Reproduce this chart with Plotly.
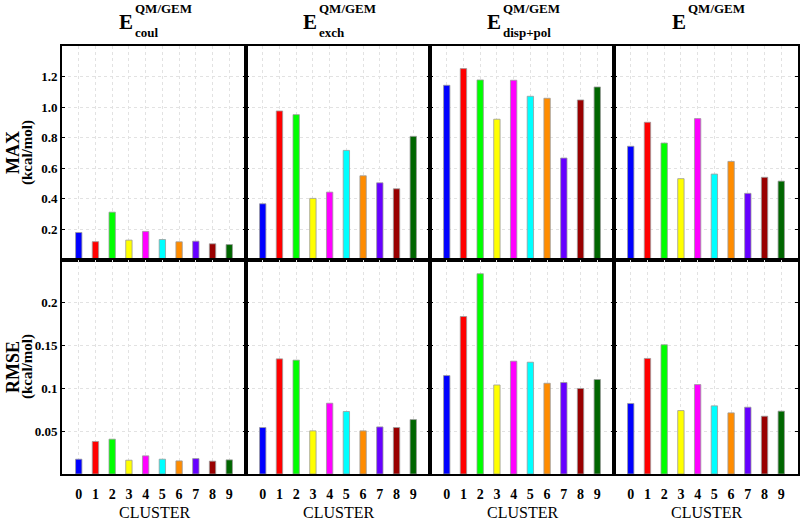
import plotly.graph_objects as go
from plotly.subplots import make_subplots

clusters = ["0", "1", "2", "3", "4", "5", "6", "7", "8", "9"]
colors = ["#0000ff", "#ff0000", "#00ff00", "#ffff00", "#ff00ff",
          "#00ffff", "#ff8c00", "#6600ff", "#990000", "#006600"]

panel_subs = ["coul", "exch", "disp+pol", ""]

max_coul = [0.180, 0.120, 0.313, 0.130, 0.187, 0.134, 0.119, 0.123, 0.106, 0.101]
max_exch = [0.368, 0.975, 0.951, 0.403, 0.444, 0.717, 0.551, 0.505, 0.466, 0.809]
max_disp = [1.143, 1.252, 1.178, 0.921, 1.176, 1.071, 1.058, 0.667, 1.047, 1.132]
max_tot = [0.744, 0.901, 0.765, 0.532, 0.925, 0.562, 0.645, 0.436, 0.541, 0.516]

rmse_coul = [0.0173, 0.0380, 0.0407, 0.0161, 0.0212, 0.0173, 0.0153, 0.0180, 0.0150, 0.0165]
rmse_exch = [0.0543, 0.1345, 0.1330, 0.0504, 0.0827, 0.0730, 0.0504, 0.0550, 0.0543, 0.0636]
rmse_disp = [0.1150, 0.1840, 0.2340, 0.1040, 0.1318, 0.1306, 0.1060, 0.1069, 0.0999, 0.1104]
rmse_tot = [0.0824, 0.1350, 0.1510, 0.0741, 0.1045, 0.0796, 0.0714, 0.0780, 0.0675, 0.0734]

max_ticks = [0.2, 0.4, 0.6, 0.8, 1.0, 1.2]
max_ticklabels = ["0.2", "0.4", "0.6", "0.8", "1.0", "1.2"]
rmse_ticks = [0.05, 0.1, 0.15, 0.2]
rmse_ticklabels = ["0.05", "0.1", "0.15", "0.2"]

top_rows = [max_coul, max_exch, max_disp, max_tot]
bot_rows = [rmse_coul, rmse_exch, rmse_disp, rmse_tot]

W, H = 800, 522
L, R, T, B = 62, 2, 46, 48
PW = W - L - R
PH = H - T - B

def px(x):
    return (x - L) / PW

def py(y):
    return (H - B - y) / PH

FONT = "Liberation Serif"

fig = make_subplots(rows=2, cols=4, horizontal_spacing=0, vertical_spacing=0)

for c in range(4):
    for r, data in ((1, top_rows[c]), (2, bot_rows[c])):
        fig.add_trace(go.Bar(
            x=list(range(len(clusters))), y=data,
            marker=dict(color=colors, line=dict(color="#9a9a9a", width=0.8)),
            width=0.38, showlegend=False, hoverinfo="skip",
        ), row=r, col=c + 1)

axis_common = dict(
    showline=True, linecolor="black", linewidth=2, mirror="allticks",
    showgrid=True, gridcolor="#e2e2e2", griddash="dot", gridwidth=1,
    zeroline=False, tickcolor="black", automargin=False,
    tickfont=dict(family=FONT, size=13, color="black", weight="bold"),
)

for c in range(4):
    for r in (1, 2):
        fig.update_xaxes(
            range=[-1, 10], tickvals=list(range(10)), ticktext=clusters,
            showticklabels=(r == 2), ticks="", ticklabelstandoff=6,
            **axis_common, row=r, col=c + 1)
        if r == 1:
            fig.update_yaxes(range=[0, 1.4], tickvals=max_ticks,
                             ticktext=max_ticklabels, showticklabels=(c == 0),
                             ticks="inside", ticklen=3,
                             **axis_common, row=r, col=c + 1)
        else:
            fig.update_yaxes(range=[0, 0.25], tickvals=rmse_ticks,
                             ticktext=rmse_ticklabels, showticklabels=(c == 0),
                             ticks="inside", ticklen=3,
                             **axis_common, row=r, col=c + 1)

fig.update_xaxes(tickfont=dict(family=FONT, size=14, color="black", weight="bold"), row=2)

ann = []
E_x = [126, 310, 494, 679]
for c in range(4):
    ann.append(dict(x=px(E_x[c]), y=py(22), xref="paper", yref="paper",
                    text="E", showarrow=False, xanchor="center", yanchor="middle",
                    font=dict(family=FONT, size=21, color="black", weight="bold")))
    ann.append(dict(x=px(E_x[c] + 7), y=py(8), xref="paper", yref="paper",
                    text="QM/GEM", showarrow=False, xanchor="left", yanchor="middle",
                    font=dict(family=FONT, size=13, color="black", weight="bold")))
    if panel_subs[c]:
        ann.append(dict(x=px(E_x[c] + 7), y=py(33), xref="paper", yref="paper",
                        text=panel_subs[c], showarrow=False, xanchor="left", yanchor="middle",
                        font=dict(family=FONT, size=13, color="black", weight="bold")))

for c in range(4):
    ann.append(dict(x=(c + 0.5) / 4, y=py(512), xref="paper", yref="paper",
                    text="CLUSTER", showarrow=False, xanchor="center", yanchor="middle",
                    font=dict(family=FONT, size=16, color="black")))

for label, yc in (("MAX", 153), ("RMSE", 367)):
    ann.append(dict(x=px(13), y=py(yc), xref="paper", yref="paper",
                    text=label, showarrow=False, textangle=-90,
                    xanchor="center", yanchor="middle",
                    font=dict(family=FONT, size=18, color="black", weight="bold")))
    ann.append(dict(x=px(27), y=py(yc), xref="paper", yref="paper",
                    text="(kcal/mol)", showarrow=False, textangle=-90,
                    xanchor="center", yanchor="middle",
                    font=dict(family=FONT, size=15, color="black", weight="bold")))

fig.update_layout(
    width=W, height=H, margin=dict(l=L, r=R, t=T, b=B),
    paper_bgcolor="white", plot_bgcolor="white",
    annotations=ann, hovermode=False,
)

fig.write_html("out.html", post_script="document.body.style.margin='0';",
               config={"displayModeBar": False})
